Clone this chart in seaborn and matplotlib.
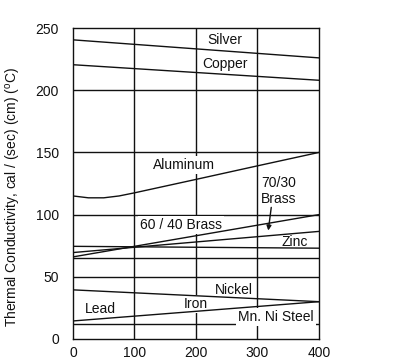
import numpy as np
import pandas as pd
import matplotlib
matplotlib.use('Agg')
import matplotlib.pyplot as plt
import seaborn as sns

# temperature, deg C
temps = [0, 400]
silver = [240.5, 226]
copper = [220.5, 208]
zinc = [74.5, 73]
brass_70_30 = [69.5, 86.5]
brass_60_40 = [66, 100]
nickel = [39.5, 30]
iron = [14.5, 30]
# aluminum bends near the start
al_temps = [0, 25, 50, 75, 100, 200, 300, 400]
aluminum = [115, 113.5, 113.5, 115, 117.5, 128.3, 139.2, 150]
extra_levels = [12, 65]

rows = []
for name, ys in [('Silver', silver), ('Copper', copper), ('Zinc', zinc),
                 ('70/30 Brass', brass_70_30), ('60/40 Brass', brass_60_40),
                 ('Nickel', nickel), ('Iron', iron)]:
    for t, k in zip(temps, ys):
        rows.append((name, t, k))
for t, k in zip(al_temps, aluminum):
    rows.append(('Aluminum', t, k))
df = pd.DataFrame(rows, columns=['metal', 'temp', 'k'])

sns.set_style('white')
plt.rcParams['font.family'] = ['Liberation Sans', 'DejaVu Sans']
plt.rcParams['mathtext.default'] = 'regular'

fig = plt.figure(figsize=(3.98, 3.64), dpi=100)
ax = fig.add_axes([0.1834, 0.0687, 0.618, 0.8543])
ink = '#111111'

for y in [50, 100, 150, 200] + extra_levels:
    ax.axhline(y, color=ink, lw=1.0, zorder=1)
for x in [100, 200, 300]:
    ax.axvline(x, color=ink, lw=1.0, zorder=1)

sns.lineplot(data=df, x='temp', y='k', units='metal', estimator=None,
             color=ink, lw=1.0, ax=ax, zorder=3, legend=False)

# white boxes hide the grid behind the labels, not the curves
box = dict(facecolor='white', edgecolor='none', pad=1.5)
labels = [('Silver', 247, 240), ('Copper', 247, 221), ('Aluminum', 181, 140),
          ('60 / 40 Brass', 175, 91.5), ('Zinc', 360, 78),
          ('Nickel', 262, 39.5), ('Lead', 44, 24.5), ('Iron', 200, 28),
          ('Mn. Ni Steel', 330, 18)]
for txt, x, y in labels:
    ax.text(x, y, txt, ha='center', va='center', fontsize=10, color=ink,
            bbox=box, zorder=2)
ax.text(306, 119, '70/30\nBrass', ha='left', va='center', fontsize=10,
        color=ink, linespacing=1.1, zorder=2)
ax.annotate('', xy=(317, 85), xytext=(323, 108),
            arrowprops=dict(arrowstyle='-|>', color=ink, lw=1.0,
                            mutation_scale=7), zorder=3)

ax.set_xlim(0, 400)
ax.set_ylim(0, 250)
ax.set_xticks([0, 100, 200, 300, 400])
ax.set_yticks([0, 50, 100, 150, 200, 250])
ax.tick_params(length=0, labelsize=10, colors=ink)
ax.tick_params(axis='y', pad=10)
ax.tick_params(axis='x', pad=5)
for s in ax.spines.values():
    s.set_color(ink)
    s.set_linewidth(1.0)
    s.set_zorder(4)
ax.set_xlabel('')
ax.set_ylabel('Thermal Conductivity, cal / (sec) (cm) ($^o$C)', fontsize=10,
              color=ink)
ax.yaxis.set_label_coords(-0.203, 0.455)

fig.savefig('out.png', dpi=100)
